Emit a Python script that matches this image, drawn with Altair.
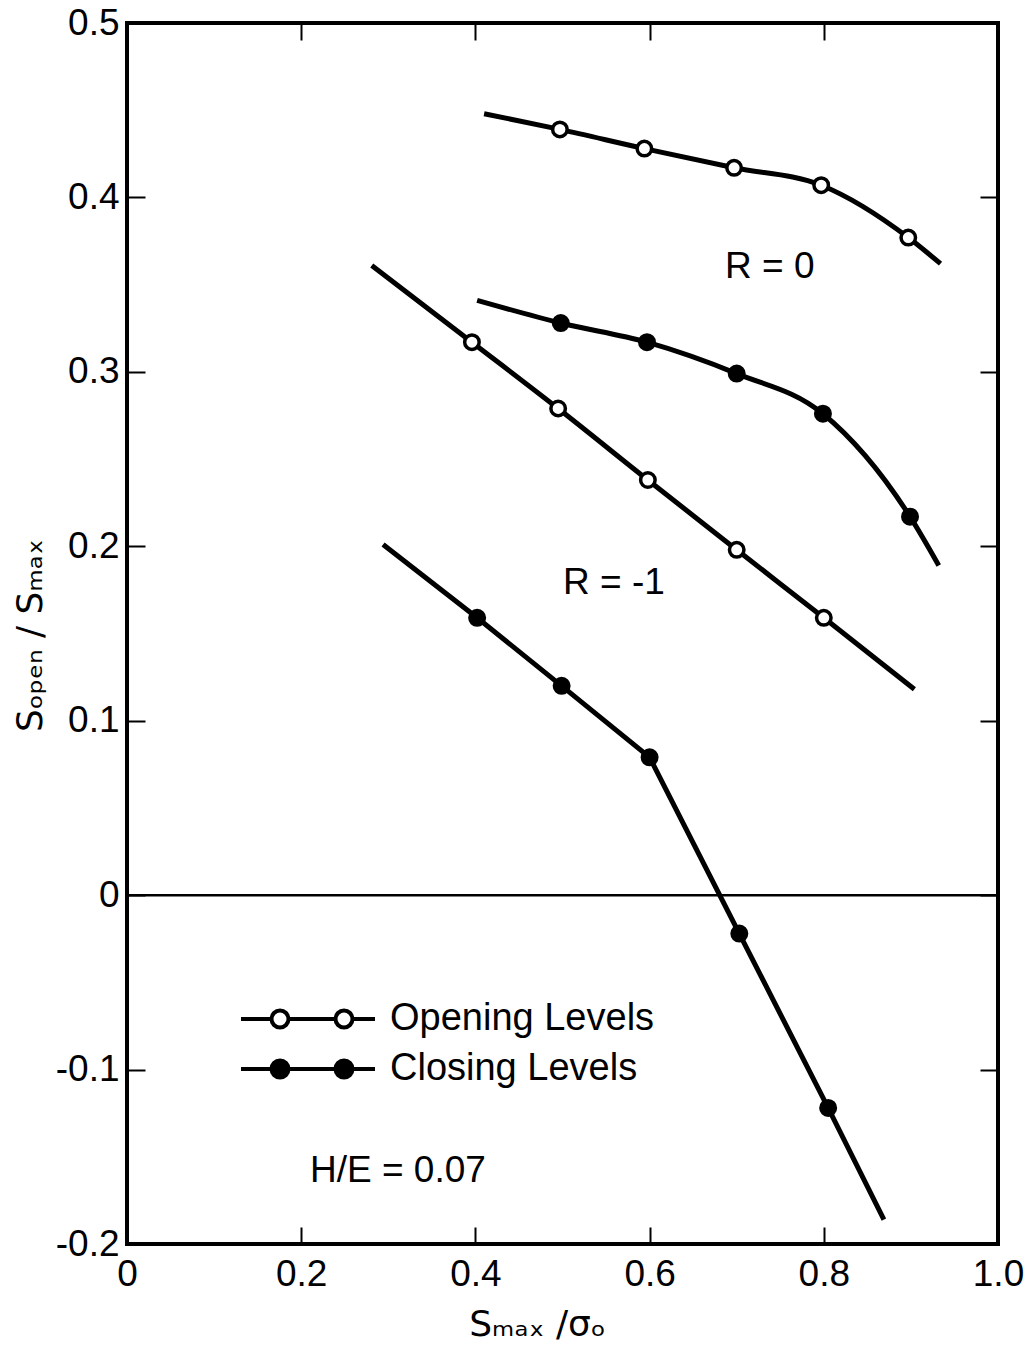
import altair as alt
import pandas as pd

# ---------------- data ----------------
# R = 0, opening levels (open circles)
open_r0_x = [0.497, 0.594, 0.697, 0.797, 0.897]
open_r0_y = [0.439, 0.428, 0.417, 0.407, 0.377]
open_r0_end_x = [0.410, 0.934]
open_r0_end_y = [0.448, 0.362]

# R = 0, closing levels (filled circles)
close_r0_x = [0.498, 0.597, 0.700, 0.799, 0.899]
close_r0_y = [0.328, 0.317, 0.299, 0.276, 0.217]
close_r0_end_x = [0.402, 0.932]
close_r0_end_y = [0.341, 0.189]

# R = -1, opening levels (open circles)
open_rm1_x = [0.396, 0.495, 0.598, 0.700, 0.800]
open_rm1_y = [0.317, 0.279, 0.238, 0.198, 0.159]
open_rm1_end_x = [0.281, 0.904]
open_rm1_end_y = [0.361, 0.118]

# R = -1, closing levels (filled circles)
close_rm1_x = [0.402, 0.499, 0.600, 0.703, 0.805]
close_rm1_y = [0.159, 0.120, 0.079, -0.022, -0.122]
close_rm1_end_x = [0.294, 0.869]
close_rm1_end_y = [0.201, -0.186]

level_names = ["Opening Levels", "Closing Levels"]

x_ticks = [0.0, 0.2, 0.4, 0.6, 0.8, 1.0]
y_ticks = [-0.2, -0.1, 0.0, 0.1, 0.2, 0.3, 0.4, 0.5]

ann_text = ["R = 0", "R = -1", "H/E = 0.07"]
ann_x = [0.738, 0.559, 0.311]
ann_y = [0.360, 0.179, -0.158]

x_title = "S\u2098\u2090\u2093 /\u03c3\u2092"
y_title = "S\u2092\u209a\u2091\u2099 / S\u2098\u2090\u2093"

# ---------------- tables ----------------
series = [
    ("open_r0", level_names[0], open_r0_x, open_r0_y, open_r0_end_x, open_r0_end_y),
    ("close_r0", level_names[1], close_r0_x, close_r0_y, close_r0_end_x, close_r0_end_y),
    ("open_rm1", level_names[0], open_rm1_x, open_rm1_y, open_rm1_end_x, open_rm1_end_y),
    ("close_rm1", level_names[1], close_rm1_x, close_rm1_y, close_rm1_end_x, close_rm1_end_y),
]
pt_rows, ln_rows = [], []
for cid, lvl, xs_, ys_, ex, ey in series:
    for a, b in zip(xs_, ys_):
        pt_rows.append({"x": a, "y": b, "level": lvl, "curve": cid})
        ln_rows.append({"x": a, "y": b, "curve": cid})
    for a, b in zip(ex, ey):
        ln_rows.append({"x": a, "y": b, "curve": cid})
df_pts = pd.DataFrame(pt_rows)
df_lines = pd.DataFrame(ln_rows).sort_values(["curve", "x"])
df_ann = pd.DataFrame({"text": ann_text, "x": ann_x, "y": ann_y})
df_zero = pd.DataFrame({"y": [0.0]})

# ---------------- scales / axes ----------------
xs = alt.Scale(domain=[0, 1], nice=False, zero=False)
ys = alt.Scale(domain=[-0.2, 0.5], nice=False, zero=False)

lab_expr = ("datum.value == 0 ? '0' : (datum.value < 0 ? '-' + format(abs(datum.value), '.1f')"
            " : format(datum.value, '.1f'))")
TICK_FONT = "Liberation Sans"
TITLE_FONT = "DejaVu Sans"

axis_bottom = alt.Axis(orient="bottom", values=x_ticks, domain=False, grid=False,
                       tickSize=17, tickWidth=2, tickColor="black", offset=-17,
                       labelPadding=12, labelFont=TICK_FONT, labelFontSize=37,
                       labelColor="black", labelExpr=lab_expr, labelFlush=False,
                       title=x_title, titleFont=TITLE_FONT, titleFontSize=36,
                       titleFontWeight="normal", titleColor="black",
                       titleX=410, titleY=108, titleBaseline="alphabetic")
axis_left = alt.Axis(orient="left", values=y_ticks, domain=False, grid=False,
                     tickSize=18, tickWidth=2, tickColor="black", offset=-18,
                     labelPadding=8, labelFont=TICK_FONT, labelFontSize=37,
                     labelColor="black", labelExpr=lab_expr, labelFlush=False,
                     title=y_title, titleFont=TITLE_FONT, titleFontSize=36,
                     titleFontWeight="normal", titleColor="black",
                     titleX=-104, titleY=612, titleBaseline="alphabetic")
axis_top = alt.Axis(orient="top", values=x_ticks, domain=False, grid=False,
                    tickSize=17, tickWidth=2, tickColor="black", offset=-17,
                    labels=False, title=None)
axis_right = alt.Axis(orient="right", values=y_ticks, domain=False, grid=False,
                      tickSize=18, tickWidth=2, tickColor="black", offset=-18,
                      labels=False, title=None)

# legend symbol: line with two circles (unit = sqrt(size)/2 px)
legend_path = ("M-6.7,0L-3.65,0M-1.95,0L2.75,0M4.45,0L6.7,0"
               "M-1.95,0A0.85,0.85,0,1,1,-3.65,0A0.85,0.85,0,1,1,-1.95,0"
               "M4.45,0A0.85,0.85,0,1,1,2.75,0A0.85,0.85,0,1,1,4.45,0")

# ---------------- layers ----------------
smooth = alt.Chart(df_lines).transform_filter(
    alt.datum.curve != "close_rm1"
).mark_line(interpolate="monotone", color="black", strokeWidth=5).encode(
    x=alt.X("x:Q", scale=xs, axis=axis_bottom),
    y=alt.Y("y:Q", scale=ys, axis=axis_left),
    detail="curve:N",
    order="x:Q",
)

straight = alt.Chart(df_lines).transform_filter(
    alt.datum.curve == "close_rm1"
).mark_line(color="black", strokeWidth=5).encode(
    x=alt.X("x:Q", scale=xs, axis=None),
    y=alt.Y("y:Q", scale=ys, axis=None),
    detail="curve:N",
    order="x:Q",
)

zero = alt.Chart(df_zero).mark_rule(color="black", strokeWidth=2.5).encode(
    y=alt.Y("y:Q", scale=ys, axis=None)
)

points = alt.Chart(df_pts).mark_point(
    shape="circle", filled=True, size=210, stroke="black", strokeWidth=3.5, opacity=1
).encode(
    x=alt.X("x:Q", scale=xs, axis=None),
    y=alt.Y("y:Q", scale=ys, axis=None),
    fill=alt.Fill("level:N",
                  scale=alt.Scale(domain=level_names, range=["white", "black"]),
                  legend=alt.Legend(orient="none", legendX=162, legendY=977,
                                    title=None, padding=0,
                                    symbolType=legend_path, symbolSize=400,
                                    symbolStrokeColor="black", symbolStrokeWidth=4,
                                    symbolOpacity=1,
                                    labelFont=TICK_FONT, labelFontSize=38,
                                    labelColor="black", labelOffset=63,
                                    labelLimit=500, rowPadding=12)),
)

texts = alt.Chart(df_ann).mark_text(
    font=TICK_FONT, fontSize=37, color="black", align="center", baseline="middle"
).encode(
    x=alt.X("x:Q", scale=xs, axis=axis_top),
    y=alt.Y("y:Q", scale=ys, axis=axis_right),
    text="text:N",
)

chart = alt.layer(zero, smooth, straight, points, texts).resolve_axis(
    x="independent", y="independent"
).properties(
    width=871, height=1221,
    autosize=alt.AutoSizeParams(type="none"),
    padding={"left": 127, "top": 23, "right": 36, "bottom": 111},
    background="white",
).configure_view(stroke="black", strokeWidth=4)

chart.save("out.html", embed_options={"renderer": "svg", "actions": False})
